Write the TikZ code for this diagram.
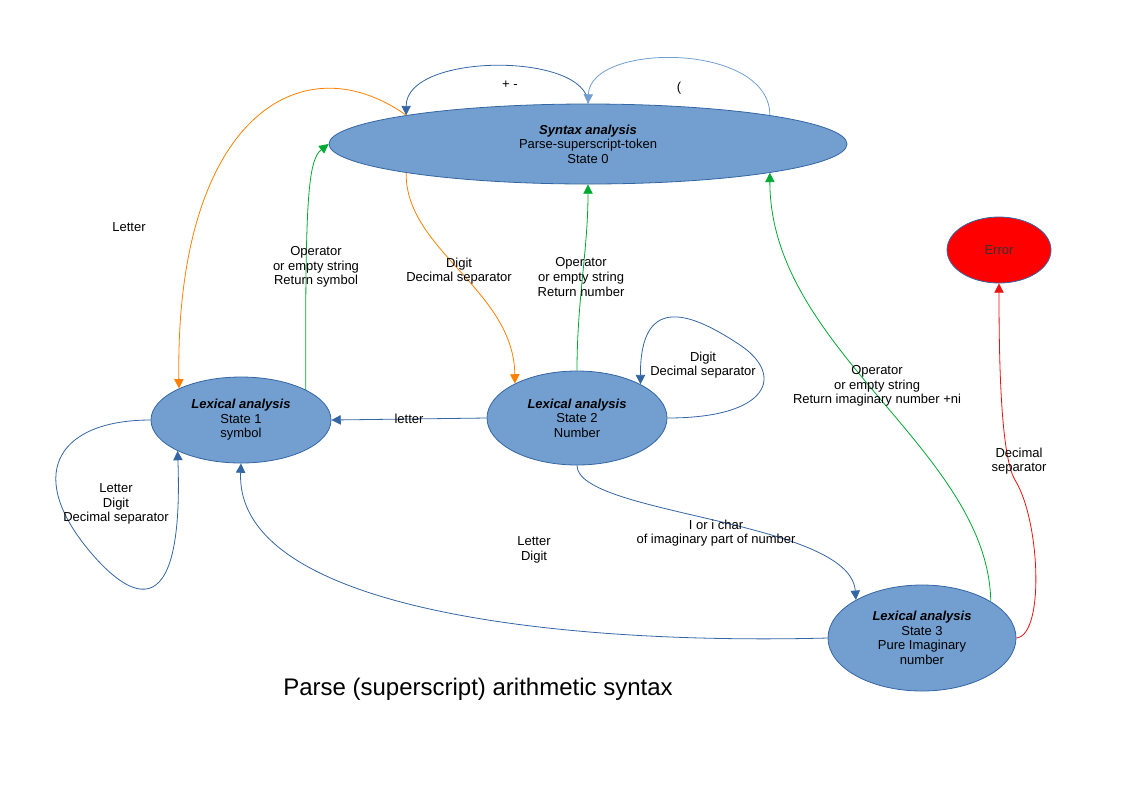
\documentclass[tikz,border=0pt]{standalone}
\usepackage{fontspec}
\setmainfont{Liberation Sans}
\usetikzlibrary{arrows.meta,shapes.geometric}
\definecolor{stfill}{HTML}{729FCF}
\definecolor{stdraw}{HTML}{3465A4}
\definecolor{edblue}{HTML}{3465A4}
\definecolor{edlight}{HTML}{729FCF}
\definecolor{edorange}{HTML}{FF8000}
\definecolor{edgreen}{HTML}{00A933}
\definecolor{edred}{HTML}{EE1111}
\tikzset{
  state/.style={ellipse, fill=stfill, draw=stdraw, line width=0.6pt, inner sep=0pt, align=center, font=\fontsize{9.75}{10.9}\selectfont},
  lbl/.style={align=center, font=\fontsize{9.75}{10.9}\selectfont, inner sep=0pt},
  tip/.style={-{Triangle[length=7pt,width=7pt]}},
  eblue/.style={tip, draw=edblue, line width=0.6pt},
  elight/.style={tip, draw=edlight, line width=0.6pt},
  eorange/.style={tip, draw=edorange, line width=0.6pt},
  egreen/.style={tip, draw=edgreen, line width=0.6pt},
  ered/.style={tip, draw=edred, line width=0.6pt},
}
\newcommand{\bi}[1]{\textbf{\textit{#1}}}
\begin{document}
\begin{tikzpicture}[x=0.75pt,y=-0.75pt]
\useasboundingbox (0,0) rectangle (1123,794);
% states
\node[state, minimum width=388.5pt, minimum height=60pt] (S0) at (588,144) {\bi{Syntax analysis}\\Parse-superscript-token\\State 0};
\node[state, minimum width=78pt, minimum height=49.5pt, fill=red, draw=stdraw, text=black!80] (E) at (999,250) {Error};
\node[state, minimum width=135pt, minimum height=64.5pt] (S1) at (241,420) {\bi{Lexical analysis}\\State 1\\symbol};
\node[state, minimum width=135pt, minimum height=70.5pt] (S2) at (577,418) {\bi{Lexical analysis}\\State 2\\Number};
\node[state, minimum width=141pt, minimum height=79.5pt] (S3) at (922,638) {\bi{Lexical analysis}\\State 3\\Pure Imaginary\\number};
% edges
\draw[eblue] (S0.north) .. controls (588,52) and (406,52) .. (S0.171.6);
\draw[elight] (S0.9.2) .. controls (770,42) and (590,42) .. (S0.north);
\draw[eorange] (S0.171.2) .. controls (300,40) and (175,120) .. (S1.153.4);
\draw[egreen] (S1.25) .. controls (305,200) and (308,160) .. (S0.west);
\draw[eorange] (S0.189.6) .. controls (405,250) and (514,290) .. (S2.151.6);
\draw[egreen] (S2.north) .. controls (577,300) and (588,250) .. (S0.south);
\draw[eblue] (S2.east) .. controls (770,418) and (785,375) .. (740,345) .. controls (695,315) and (640,290) .. (S2.28);
\draw[eblue] (S2.west) -- (S1.east);
\draw[eblue] (S2.south) .. controls (577,515) and (850,520) .. (S3.150.4);
\draw[eblue] (S3.west) .. controls (560,645) and (235,610) .. (S1.south);
\draw[eblue] (S1.west) .. controls (62,420) and (24,470) .. (87,548) .. controls (113,580) and (185,655) .. (S1.206.6);
\draw[egreen] (S3.28.6) .. controls (988,450) and (770,350) .. (S0.351);
\draw[ered] (S3.east) .. controls (1045,635) and (1040,520) .. (1015,480) .. controls (1000,455) and (999,350) .. (E.south);
% labels
\node[lbl] (l1) at (510,85) {+ -};
\node[lbl] (l2) at (679,88) {(};
\node[lbl] (l3) at (129,227) {Letter};
\node[lbl] (l4) at (316,267) {Operator\\or empty string\\Return symbol};
\node[lbl] (l5) at (459,271) {Digit\\Decimal separator};
\node[lbl] (l6) at (581,277) {Operator\\or empty string\\Return number};
\node[lbl] (l7) at (703,365) {Digit\\Decimal separator};
\node[lbl] (l8) at (409,419) {letter};
\node[lbl] (l9) at (877,386) {Operator\\or empty string\\Return imaginary number +ni};
\node[lbl] (l10) at (1019,461) {Decimal\\separator};
\node[lbl] (l11) at (116,504) {Letter\\Digit\\Decimal separator};
\node[lbl] (l12) at (534,550) {Letter\\Digit};
\node[lbl] (l13) at (716,533) {I or i char\\of imaginary part of number};
\node[lbl, font=\fontsize{18}{20}\selectfont] (title) at (478,689) {Parse (superscript) arithmetic syntax};
\end{tikzpicture}
\end{document}
